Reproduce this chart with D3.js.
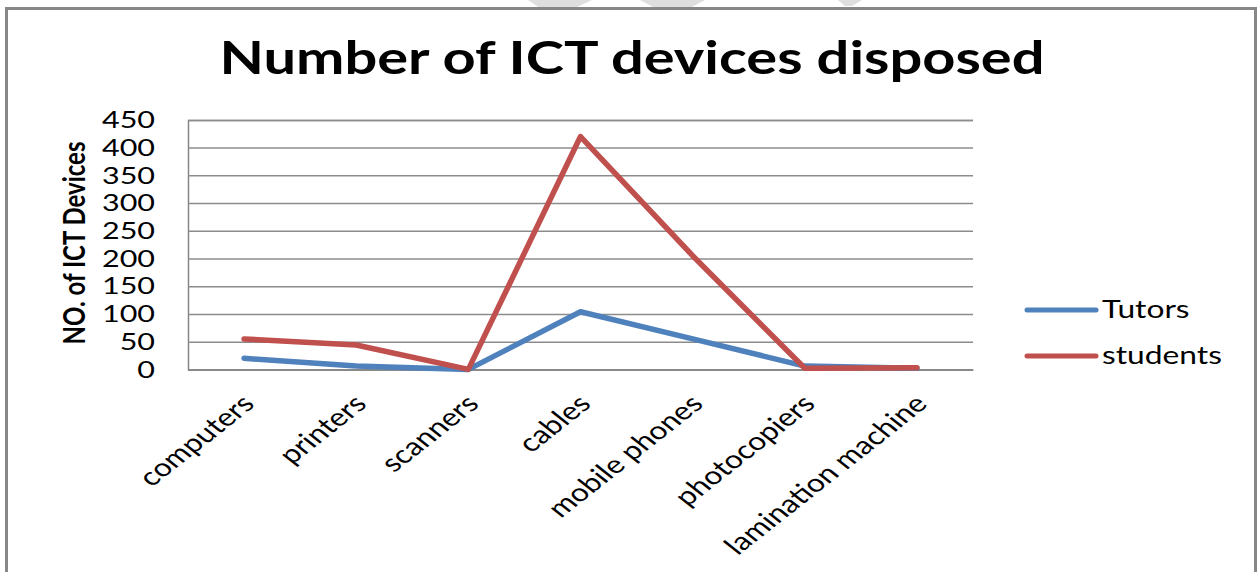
<!DOCTYPE html>
<html>
<head>
<meta charset="utf-8">
<script src="https://cdn.jsdelivr.net/npm/d3@7"></script>
<style>
  html, body { margin: 0; padding: 0; background: #fff; }
  svg { display: block; }
  text { font-family: Lato, "Open Sans", "DejaVu Sans", sans-serif; fill: #000; }
</style>
</head>
<body>
<svg id="chart" width="1259" height="572"></svg>
<script>
// Devices disposed, by category
const categories = ["computers", "printers", "scanners", "cables", "mobile phones", "photocopiers", "lamination machine"];
const tutors   = [20, 6, 0, 104, 55, 6, 2];
const students = [55, 44, 0, 420, 205, 2, 3];
const yTicks = [0, 50, 100, 150, 200, 250, 300, 350, 400, 450];
const seriesNames = ["Tutors", "students"];
const seriesColors = ["#4F81BD", "#C0504D"];

const plot = { left: 188, right: 973, top: 119.9, bottom: 369.4 };
const SX = 1.27; // horizontal text stretch used throughout the figure

const svg = d3.select("#chart");

// faint page mark above the frame
const mark = svg.append("g").attr("fill", "#dedede");
mark.append("path").attr("d", "M528,0 L592,0 L575,8 L540,8 Z");
mark.append("path").attr("d", "M640,0 L705,0 L690,8 L655,8 Z");
mark.append("path").attr("d", "M838,0 L862,0 L852,6 L845,6 Z");

// outer frame
svg.append("rect")
  .attr("x", 6.5).attr("y", 8.5)
  .attr("width", 1249).attr("height", 620)
  .attr("fill", "#fff").attr("stroke", "#878787").attr("stroke-width", 3);

// title
svg.append("text")
  .attr("transform", `translate(632,74) scale(${SX},1)`)
  .attr("text-anchor", "middle")
  .attr("font-weight", "bold")
  .attr("font-size", 45.5)
  .text("Number of ICT devices disposed");

const x = d3.scaleBand().domain(categories).range([plot.left, plot.right]).padding(0);
const y = d3.scaleLinear().domain([0, 450]).range([plot.bottom, plot.top]);
const cx = c => x(c) + x.bandwidth() / 2;

// horizontal gridlines + value labels
const yAxis = svg.append("g")
  .attr("transform", `translate(${plot.left},0)`)
  .call(d3.axisLeft(y).tickValues(yTicks).tickSize(-(plot.right - plot.left)).tickPadding(26));
yAxis.select(".domain").attr("stroke", "#868686").attr("stroke-width", 1.5);
yAxis.selectAll(".tick line").attr("stroke", "#8c8c8c").attr("stroke-width", 1.5);
yAxis.selectAll(".tick text")
  .attr("font-size", 24)
  .attr("font-family", "Lato, sans-serif")
  .attr("fill", "#000")
  .attr("transform", `scale(${SX},1)`);

// category axis
const xAxis = svg.append("g")
  .attr("transform", `translate(0,${plot.bottom})`)
  .call(d3.axisBottom(x).tickSize(0).tickPadding(0));
xAxis.select(".domain").attr("stroke", "#868686").attr("stroke-width", 1.5);
xAxis.selectAll(".tick text")
  .attr("font-size", 25)
  .attr("font-family", "Lato, sans-serif")
  .attr("fill", "#000")
  .attr("x", 0).attr("y", 0).attr("dy", 0)
  .attr("text-anchor", "end")
  .attr("transform", `translate(12,36) scale(${SX},1) rotate(-45)`);

// y axis title
svg.append("text")
  .attr("transform", `translate(85,243) scale(${SX},1) rotate(-90)`)
  .attr("text-anchor", "middle")
  .attr("font-weight", "bold")
  .attr("font-size", 24)
  .text("NO. of ICT Devices");

// series lines
const line = d3.line()
  .x((d, i) => cx(categories[i]))
  .y(d => y(d));

[tutors, students].forEach((vals, k) => {
  svg.append("path")
    .datum(vals)
    .attr("d", line)
    .attr("fill", "none")
    .attr("stroke", seriesColors[k])
    .attr("stroke-width", 5.5)
    .attr("stroke-linejoin", "round")
    .attr("stroke-linecap", "round");
});

// legend
const legend = svg.append("g");
seriesNames.forEach((name, k) => {
  const ly = 310 + k * 46;
  legend.append("line")
    .attr("x1", 1027).attr("x2", 1096)
    .attr("y1", ly).attr("y2", ly)
    .attr("stroke", seriesColors[k])
    .attr("stroke-width", 5)
    .attr("stroke-linecap", "round");
  legend.append("text")
    .attr("transform", `translate(1102,${ly + 8}) scale(${SX},1)`)
    .attr("font-size", 25)
    .text(name);
});
</script>
</body>
</html>
